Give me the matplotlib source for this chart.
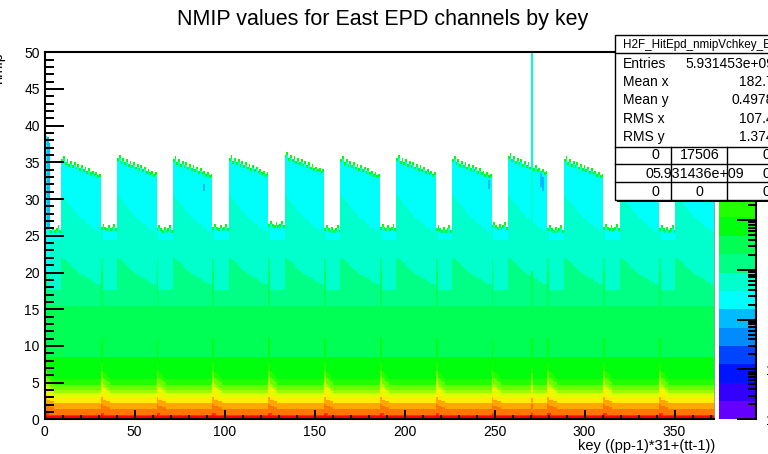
import colorsys
import numpy as np
import matplotlib
matplotlib.use("Agg")
import matplotlib.pyplot as plt
from matplotlib.colors import ListedColormap, BoundaryNorm
from matplotlib.patches import Rectangle
from matplotlib.lines import Line2D

plt.rcParams['font.family'] = ['Liberation Sans', 'DejaVu Sans']

W, H = 768, 454

# ---- histogram layout
n_pp = 12
n_tt = 31
nmip_max = 50.0
nmip_step = 0.2
zmax_log = 7.36          # log z colour scale from 1 to ~2.3e7 counts
n_contours = 20

# NMIP spectrum of a reference tile read off the colour bands:
# upper nmip edge of each band and log10(counts) inside it
band_edge = [0.4, 0.6, 1.5, 2.2, 2.9, 3.6, 4.0, 4.7, 5.4, 8.5, 15.5, 22.0, 30.5]
band_logn = [7.2, 6.8, 6.45, 6.1, 5.7, 5.35, 4.95, 4.6, 4.25, 3.85, 3.5, 3.1, 2.75, 2.4]
n_low = 9                # edges [0, 9) scale with low_stretch
n_mid = 11               # edges [9, 11) scale with mid_stretch, the rest with high_stretch
tip_logn = 3.85          # pile-up at the saturation level
tip_width = 0.4

# per tile (tt-1 = 0..30)
top_nmip = [26.0, 26.4, 26.0, 25.8, 26.2, 25.8, 26.0, 26.4, 25.8,
            35.4, 35.8, 35.0, 35.4, 34.8, 35.2, 34.6, 35.0, 34.4, 34.8, 34.2,
            34.6, 34.0, 34.4, 33.8, 34.2, 33.6, 33.8, 33.4, 33.6, 33.2, 33.4]
low_stretch = [1.4, 1.2, 1.15, 1.1, 1.05, 1.0, 1.0, 1.0, 1.0,
               1.0, 1.0, 1.0, 1.0, 1.0, 1.0, 1.0, 1.0, 1.0, 1.0, 1.0,
               1.0, 1.0, 1.0, 1.0, 1.0, 1.0, 1.0, 1.0, 1.0, 1.0, 1.0]
mid_stretch = [1.3, 1.0, 1.0, 1.0, 1.0, 1.0, 1.0, 1.0, 1.0,
               1.0, 1.0, 1.0, 1.0, 1.0, 1.0, 1.0, 1.0, 1.0, 1.0, 1.0,
               1.0, 1.0, 1.0, 1.0, 1.0, 1.0, 1.0, 1.0, 1.0, 1.0, 1.0]
high_stretch = [1.0, 0.8, 0.8, 0.8, 0.8, 0.8, 0.8, 0.8, 0.8,
                1.0, 0.99, 0.98, 0.97, 0.96, 0.95, 0.94, 0.93, 0.92, 0.91, 0.90,
                0.89, 0.89, 0.88, 0.87, 0.87, 0.86, 0.85, 0.85, 0.84, 0.84, 0.83]
# per sector (pp-1 = 0..11)
pp_top_shift = [0.0, 0.2, 0.0, 0.2, 0.6, 0.0, 0.2, 0.0, 0.4, 0.0, 0.2, 0.0]

# odd channels: first keys of sector 1 reach higher with few counts
first_keys = [0, 1, 2]
first_keys_top = [38.6, 38.4, 37.6]
first_keys_logn = [2.4, 2.0, 2.0]
hot_key = 270
hot_key_logn = 2.75
# (key, nmip from, nmip to) cells one colour lower than their neighbours
dim_cells = [(275, 31.6, 33.8), (276, 31.0, 33.0), (246, 31.4, 32.6), (88, 31.0, 32.0)]

# stats box
stats_title = "H2F_HitEpd_nmipVchkey_East"
stats_names = ["Entries", "Mean x", "Mean y", "RMS x", "RMS y"]
stats_values = ["5.931453e+09", "182.7", "0.4978", "107.4", "1.374"]
overflow_table = [["0", "17506", "0"],
                  ["0", "5.931436e+09", "0"],
                  ["0", "0", "0"]]
zlabels = ["1", "10", "$10^{2}$", "$10^{3}$", "$10^{4}$"]

# ---- ROOT pretty palette, 20 contours picked from 50 colours
def pretty(i):
    hue = 280.0 - (i + 1) * 5.6
    return colorsys.hls_to_rgb(max(hue, 0) / 360.0, 0.5, 1.0)

contour_colors = [pretty(int((k + 0.99) * 50 / n_contours)) for k in range(n_contours)]
cmap = ListedColormap(contour_colors)
levels = np.linspace(0, zmax_log, n_contours + 1)
norm = BoundaryNorm(levels, n_contours)

# ---- fill the histogram
n_keys = n_pp * n_tt
y_edges = np.arange(0, nmip_max + nmip_step / 2, nmip_step)
y_mid = 0.5 * (y_edges[:-1] + y_edges[1:])
logn = np.full((len(y_mid), n_keys), np.nan)
base_edge = np.array(band_edge)
base_logn = np.array(band_logn)

for pp in range(n_pp):
    for o in range(n_tt):
        k = pp * n_tt + o
        e = base_edge.copy()
        e[:n_low] *= 1.3 if k == hot_key else low_stretch[o]
        e[n_low:n_mid] *= 1.3 if k == hot_key else mid_stretch[o]
        e[n_mid:] *= high_stretch[o]
        e = np.maximum.accumulate(e)
        col = base_logn[np.searchsorted(e, y_mid, side='right')]
        top = top_nmip[o] + pp_top_shift[pp]
        if k in first_keys:
            i = first_keys.index(k)
            top = first_keys_top[i]
            col[y_mid > 26] = first_keys_logn[i]
            col[(y_mid > 20) & (y_mid <= 26)] = 2.4
        else:
            col[(y_mid > top - tip_width) & (y_mid <= top)] = tip_logn
        col[y_mid > top] = np.nan
        if k == hot_key:
            col[y_mid > 26] = hot_key_logn
        logn[:, k] = col

for k, lo, hi in dim_cells:
    sel = (y_mid > lo) & (y_mid < hi)
    logn[sel, k] -= 0.37

# ---- figure
def fx(px):
    return px / W

def fy(py):
    return 1 - py / H

fig = plt.figure(figsize=(W / 100, H / 100), dpi=100)
ax = fig.add_axes([fx(44.5), fy(419.3), fx(714.1) - fx(44.5), fy(52.3) - fy(419.3)])
ax.imshow(np.ma.masked_invalid(logn), cmap=cmap, norm=norm, origin='lower',
          extent=[0, n_keys, 0, nmip_max], aspect='auto', interpolation='nearest')
ax.set_xlim(0, n_keys)
ax.set_ylim(0, nmip_max)

ax.set_xticks(np.arange(0, 351, 50))
ax.set_xticks(np.arange(0, 372, 10), minor=True)
ax.set_yticks(np.arange(0, 51, 5))
ax.set_yticks(np.arange(0, 51, 1), minor=True)
ax.tick_params(axis='x', which='major', direction='in', length=6.5, width=1.4,
               labelsize=10, pad=4)
ax.tick_params(axis='x', which='minor', direction='in', length=3.2, width=1.4)
ax.tick_params(axis='y', which='major', direction='in', length=14, width=1.4,
               labelsize=10, pad=3.5)
ax.tick_params(axis='y', which='minor', direction='in', length=6.5, width=1.4)
for side in ['left', 'bottom', 'top']:
    ax.spines[side].set_linewidth(1.5)
ax.spines['right'].set_linewidth(0.6)
ax.spines['right'].set_color('#999999')

fig.text(fx(715), fy(446), "key ((pp-1)*31+(tt-1))", ha='right', va='center', fontsize=10.5)
fig.text(fx(-2), fy(52), "nmip", rotation=90, ha='center', va='top', fontsize=10.5)
fig.text(fx(383), fy(20), "NMIP values for East EPD channels by key",
         ha='center', va='center', fontsize=15.5)

# ---- colour bar
cax = fig.add_axes([fx(719), fy(419.3), fx(756) - fx(719), fy(52.3) - fy(419.3)])
cax.pcolormesh([0, 1], levels, levels[:-1, None], cmap=cmap, norm=norm)
cax.set_xlim(0, 1)
cax.set_ylim(0, zmax_log)
cax.set_xticks([])
minor = [d + np.log10(m) for d in range(8) for m in range(2, 10) if d + np.log10(m) < zmax_log]
cax.yaxis.tick_right()
cax.set_yticks(np.arange(len(zlabels)))
cax.set_yticklabels(zlabels)
cax.set_yticks(minor + [5, 6, 7], minor=True)
cax.tick_params(axis='y', which='major', direction='in', length=14, width=1.4,
                labelsize=10, pad=7.5, right=True, left=False)
cax.tick_params(axis='y', which='minor', direction='in', length=6, width=1.4,
                right=True, left=False)
for side in ['left', 'top', 'bottom']:
    cax.spines[side].set_visible(False)
cax.spines['right'].set_linewidth(1.5)

# ---- stats box
bx0, by0, bx1, by1 = 615, 35, 790, 200
fig.patches.append(Rectangle((fx(bx0 + 2), fy(by1 + 2)), fx(bx1) - fx(bx0), fy(by0) - fy(by1),
                             transform=fig.transFigure, facecolor='black', edgecolor='none'))
fig.patches.append(Rectangle((fx(bx0), fy(by1)), fx(bx1) - fx(bx0), fy(by0) - fy(by1),
                             transform=fig.transFigure, facecolor='white', edgecolor='black',
                             linewidth=1.0))

def hline(py, x0=bx0, x1=bx1):
    fig.lines.append(Line2D([fx(x0), fx(x1)], [fy(py), fy(py)], transform=fig.transFigure,
                            color='black', linewidth=1.0))

def vline(px, y0, y1):
    fig.lines.append(Line2D([fx(px), fx(px)], [fy(y0), fy(y1)], transform=fig.transFigure,
                            color='black', linewidth=1.0))

hline(52.7)
for py in [146.5, 164.0, 182.3]:
    hline(py)
vline(670.7, 146.5, by1)
vline(726.7, 146.5, by1)

fig.text(fx(622.7), fy(48.3), stats_title, ha='left', va='baseline', fontsize=8.4)
row_base = [67.7, 86.0, 104.3, 122.6, 141.0]
for name, val, yb in zip(stats_names, stats_values, row_base):
    fig.text(fx(622.7), fy(yb), name, ha='left', va='baseline', fontsize=10)
    fig.text(fx(774), fy(yb), val, ha='right', va='baseline', fontsize=10)

col_x = [655.5, 699.5, 766]
tab_base = [159.3, 178.5, 196.0]
for r, (row, yb) in enumerate(zip(overflow_table, tab_base)):
    for c, (txt, cx) in enumerate(zip(row, col_x)):
        if r == 1 and c == 0:
            cx = 649.5
        if r == 1 and c == 1:
            cx = 698
        fig.text(fx(cx), fy(yb), txt, ha='center', va='baseline', fontsize=10.3)

fig.savefig("out.png", dpi=100)
